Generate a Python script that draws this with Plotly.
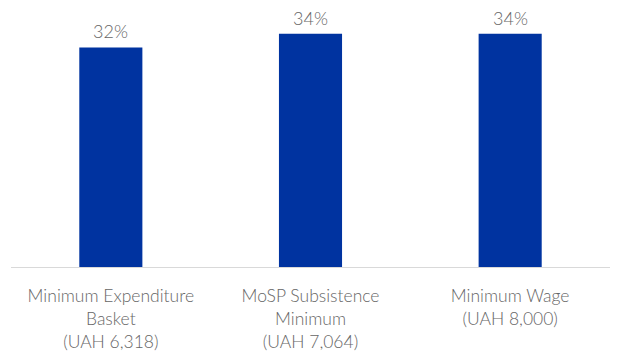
import plotly.graph_objects as go

categories = ["Minimum Expenditure<br>Basket<br>(UAH 6,318)",
              "MoSP Subsistence<br>Minimum<br>(UAH 7,064)",
              "Minimum Wage<br>(UAH 8,000)"]
values = [32, 34, 34]
labels = ["32%", "34%", "34%"]

BLUE = "#0033A0"
GRAY = "#666666"
FONT = "Lato"

fig = go.Figure(go.Bar(
    x=categories, y=values,
    marker=dict(color=BLUE, line=dict(width=0)),
    cliponaxis=False, hoverinfo="skip",
))

for c, v, t in zip(categories, values, labels):
    fig.add_annotation(x=c, y=v, text=t, showarrow=False, xanchor="center",
                       yanchor="bottom", yshift=3,
                       font=dict(family=FONT, size=18, color=GRAY, weight=300))

fig.update_layout(
    width=618, height=360,
    margin=dict(l=11, r=8, t=20, b=90),
    paper_bgcolor="white", plot_bgcolor="white",
    bargap=0.684,
    showlegend=False,
    font=dict(family=FONT, color=GRAY, size=17),
    xaxis=dict(showline=True, linecolor="#d9d9d9", linewidth=1,
               ticks="", showgrid=False, ticklabelstandoff=13,
               tickfont=dict(family=FONT, size=17.5, color=GRAY, weight=300)),
    yaxis=dict(range=[0, 36], visible=False, showgrid=False, zeroline=False),
)

fig.write_html("out.html")
